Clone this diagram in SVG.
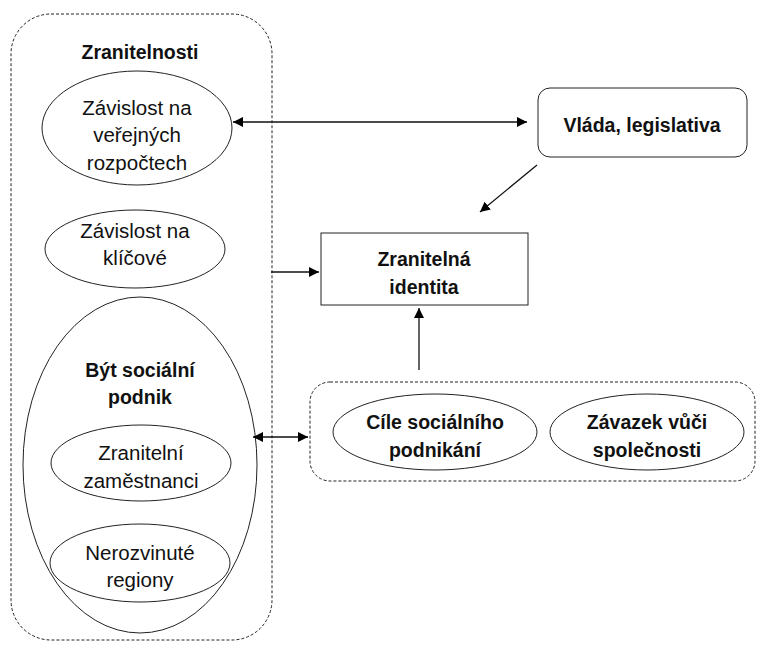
<svg xmlns="http://www.w3.org/2000/svg" width="757" height="646" viewBox="0 0 757 646">
<defs>
<marker id="ah" viewBox="0 0 10 10" refX="10" refY="5" markerWidth="10" markerHeight="10" markerUnits="userSpaceOnUse" orient="auto-start-reverse">
<path d="M0,0 L10,5 L0,10 z" fill="#000"/>
</marker>
<style>
.t{font-family:"Liberation Sans",Arial,sans-serif;font-size:20.5px;fill:#111;text-anchor:middle}
.b{font-weight:bold;font-size:19.5px}
.sh{fill:#fff;stroke:#222;stroke-width:1}
.dash{fill:none;stroke:#222;stroke-width:1;stroke-dasharray:3,2}
.c{stroke:#111;stroke-width:1.3;fill:none}
</style>
</defs>
<rect width="757" height="646" fill="#fff"/>
<g id="zranitelnosti">
<rect class="dash" x="11" y="14" width="261" height="626" rx="40" ry="40"/>
<text class="t b" x="140" y="59">Zranitelnosti</text>
</g>
<g id="zavislost-rozpocty">
<ellipse class="sh" cx="137" cy="128" rx="95" ry="57"/>
<text class="t" x="137" y="115">Závislost na</text>
<text class="t" x="137" y="142">veřejných</text>
<text class="t" x="137" y="170">rozpočtech</text>
</g>
<g id="zavislost-klicove">
<ellipse class="sh" cx="135" cy="249" rx="90" ry="39"/>
<text class="t" x="135" y="238">Závislost na</text>
<text class="t" x="135" y="265">klíčové</text>
</g>
<g id="byt-socialni-podnik">
<ellipse class="sh" cx="140" cy="465" rx="117" ry="168"/>
<text class="t b" x="140" y="377">Být sociální</text>
<text class="t b" x="140" y="404">podnik</text>
</g>
<g id="zranitelni-zamestnanci">
<ellipse class="sh" cx="141" cy="463" rx="90" ry="38"/>
<text class="t" x="141" y="460">Zranitelní</text>
<text class="t" x="141" y="488">zaměstnanci</text>
</g>
<g id="nerozvinute-regiony">
<ellipse class="sh" cx="140" cy="563" rx="90" ry="39"/>
<text class="t" x="140" y="560">Nerozvinuté</text>
<text class="t" x="140" y="587">regiony</text>
</g>
<g id="vlada">
<rect class="sh" x="538" y="88" width="209" height="69" rx="12" ry="12"/>
<text class="t b" x="642" y="132">Vláda, legislativa</text>
</g>
<g id="zranitelna-identita">
<rect class="sh" x="321" y="233" width="207" height="72"/>
<text class="t b" x="424" y="266">Zranitelná</text>
<text class="t b" x="424" y="294">identita</text>
</g>
<g id="socialni-cile">
<rect class="dash" x="310" y="382" width="445" height="99" rx="20" ry="20"/>
</g>
<g id="cile">
<ellipse class="sh" cx="435" cy="432" rx="102" ry="38"/>
<text class="t b" x="435" y="429">Cíle sociálního</text>
<text class="t b" x="435" y="457">podnikání</text>
</g>
<g id="zavazek">
<ellipse class="sh" cx="647" cy="432" rx="97" ry="38"/>
<text class="t b" x="647" y="429">Závazek vůči</text>
<text class="t b" x="647" y="457">společnosti</text>
</g>
<g id="connectors">
<line class="c" x1="233" y1="122" x2="527" y2="122" marker-start="url(#ah)" marker-end="url(#ah)"/>
<line class="c" x1="537" y1="165" x2="480" y2="212" marker-end="url(#ah)"/>
<line class="c" x1="271" y1="272" x2="319" y2="272" marker-end="url(#ah)"/>
<line class="c" x1="419" y1="370" x2="419" y2="308" marker-end="url(#ah)"/>
<line class="c" x1="253" y1="437" x2="308" y2="437" marker-start="url(#ah)" marker-end="url(#ah)"/>
</g>
</svg>
